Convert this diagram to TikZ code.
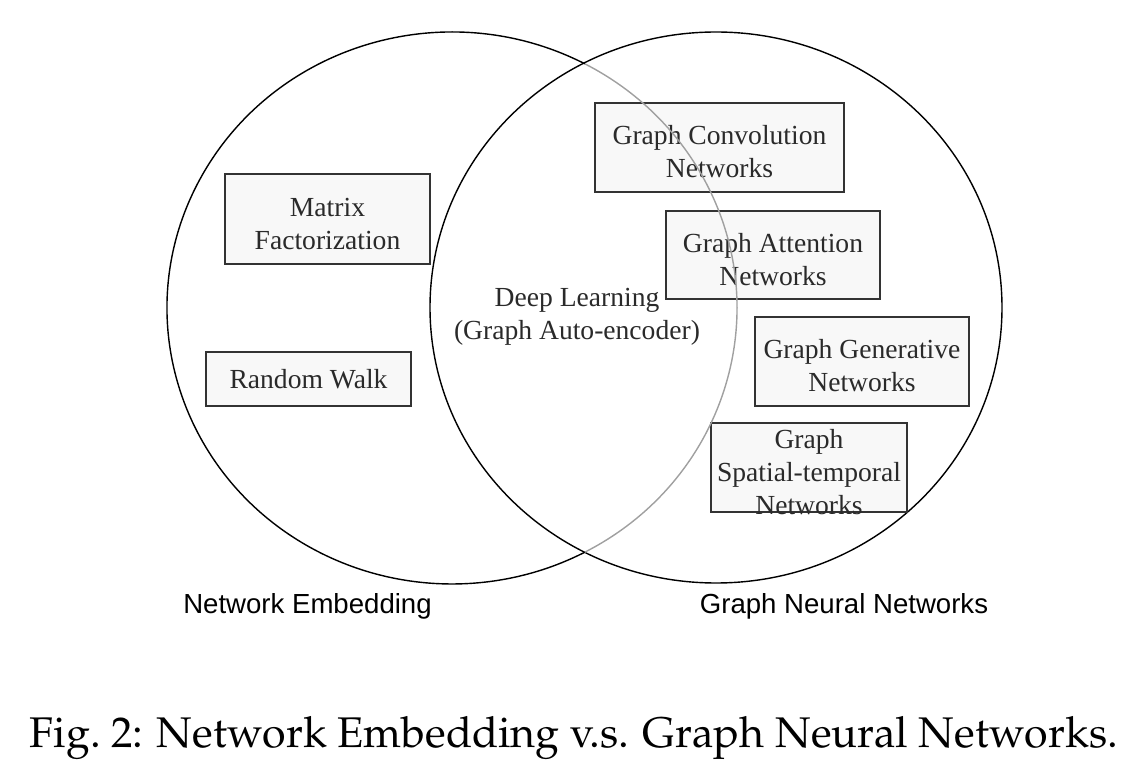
\documentclass[tikz,border=0pt]{standalone}
\usepackage[T1]{fontenc}
\usepackage{fontspec}
\setmainfont{Liberation Serif}
\setsansfont{Liberation Sans}
\definecolor{boxfill}{HTML}{F8F8F8}
\definecolor{boxline}{HTML}{333333}
\definecolor{boxtxt}{HTML}{2A2A2A}
\definecolor{arcgray}{HTML}{A0A0A0}
\newcommand{\capfont}{\fontencoding{T1}\fontfamily{ppl}\fontsize{24.4}{29}\selectfont}
\newcommand{\lowr}{\rule{0pt}{0.55cm}}
\begin{document}
\begin{tikzpicture}[
  netbox/.style={draw=boxline,fill=boxfill,line width=1pt,inner sep=0pt},
  boxtext/.style={align=center,font=\fontsize{15.7}{18.8}\selectfont,text=boxtxt},
  setlabel/.style={font=\sffamily\fontsize{15.7}{18.8}\selectfont},
  venn/.style={line width=0.8pt}
]
\useasboundingbox (0,0) rectangle (22.56,15.32);
\coordinate (nec) at (9.04,9.16);
\coordinate (gnnc) at (14.32,9.17);

\draw[venn] ([shift={(62.2:5.70 and 5.52)}]nec) arc[start angle=62.2,end angle=297.8,x radius=5.70,y radius=5.52];
\draw[venn] (gnnc) ellipse[x radius=5.72,y radius=5.51];

\node[netbox,boxtext,minimum width=4.10cm,minimum height=1.80cm] (mf) at (6.55,10.94) {\lowr Matrix\\Factorization};
\node[netbox,boxtext,minimum width=4.10cm,minimum height=1.08cm] (rw) at (6.17,7.74) {Random Walk};
\node[boxtext] (dl) at (11.54,9.08) {\lowr Deep Learning\\(Graph Auto-encoder)};
\node[netbox,boxtext,minimum width=4.98cm,minimum height=1.78cm] (gcn) at (14.39,12.37) {\lowr Graph Convolution\\Networks};
\node[netbox,boxtext,minimum width=4.28cm,minimum height=1.76cm] (gat) at (15.46,10.22) {\lowr Graph Attention\\Networks};
\node[netbox,boxtext,minimum width=4.28cm,minimum height=1.78cm] (ggn) at (17.24,8.09) {\lowr Graph Generative\\Networks};
\node[netbox,minimum width=3.92cm,minimum height=1.78cm] (gst) at (16.18,5.97) {};
\node[boxtext] (gsttext) at ([yshift=-0.1cm]gst) {Graph\\Spatial-temporal\\Networks};

\draw[venn,arcgray] ([shift={(-62.2:5.70 and 5.52)}]nec) arc[start angle=-62.2,end angle=62.2,x radius=5.70,y radius=5.52];

\node[setlabel] (ne) at (6.15,3.20) {Network Embedding};
\node[setlabel] (gnn) at (16.88,3.20) {Graph Neural Networks};

\node[font=\capfont] (caption) at (11.48,0.55) {Fig.~2: Network Embedding v.s. Graph Neural Networks.};
\end{tikzpicture}
\end{document}
